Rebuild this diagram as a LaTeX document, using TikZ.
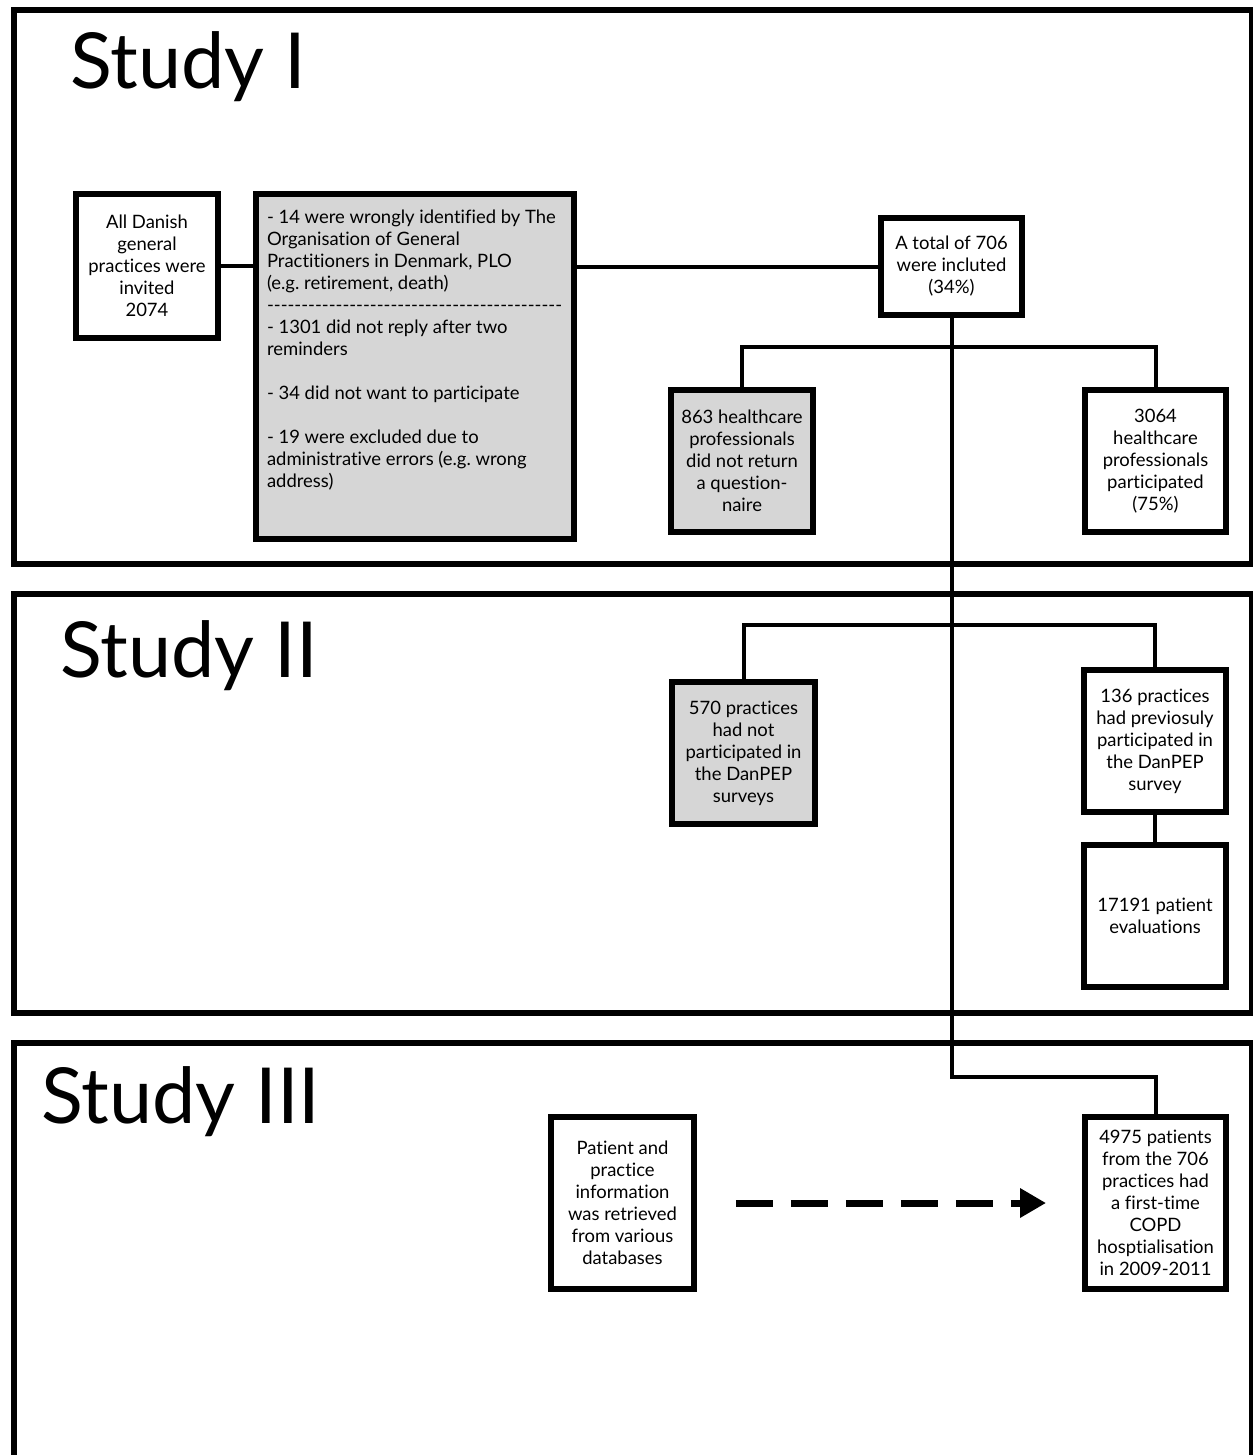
\documentclass[tikz,border=0pt]{standalone}
\usepackage{fontspec}
\setmainfont{Lato}[Ligatures={NoCommon}]
\usetikzlibrary{arrows.meta,positioning}
\definecolor{boxgray}{HTML}{D6D6D6}

\begin{document}
\begin{tikzpicture}[x=0.02cm, y=-0.02cm,
        studyframe/.style={line width=0.12cm},
        studytitle/.style={anchor=base west, inner sep=0pt, font=\fontsize{44}{44}\selectfont},
        flowbox/.style={draw, line width=0.12cm, align=center, inner sep=0pt,
            font=\fontsize{10.5}{12.5}\selectfont},
        excluded/.style={fill=boxgray},
        link/.style={line width=0.08cm},
        dasharrow/.style={line width=0.14cm, dash pattern=on 0.74cm off 0.36cm,
            -{Triangle[length=0.52cm, width=0.56cm]}, shorten <=0.78cm, shorten >=0.72cm}]
        \useasboundingbox (0,0) rectangle (1253,1455);

        \draw[studyframe] (14,10) rectangle (1252,564);
        \draw[studyframe] (14,594) rectangle (1252,1013);
        \draw[studyframe] (14,1455) -- (14,1043) -- (1252,1043) -- (1252,1455);

        \node[studytitle] (study1) at (70,88) {Study I};
        \node[studytitle] (study2) at (60,677) {Study II};
        \node[studytitle] (study3) at (41,1123) {Study III};

        % Study I
        \node[flowbox, minimum width=2.84cm, minimum height=2.88cm] (invited) at (147,266)
            {All Danish\\general\\practices were\\invited\\2074};
        \node[flowbox, excluded, inner xsep=0.22cm, inner ysep=0.32cm] (reasons) at (415,366.5)
            {\parbox[c][6.26cm][t]{5.92cm}{\raggedright
            - 14 were wrongly identified by The\\
            Organisation of General\\
            Practitioners in Denmark, PLO\\
            (e.g.\ retirement, death)\\
            \makebox[\linewidth]{\leaders\hbox{-}\hfill}\\
            - 1301 did not reply after two\\
            reminders\\[\baselineskip]
            - 34 did not want to participate\\[\baselineskip]
            - 19 were excluded due to\\
            administrative errors (e.g.\ wrong\\
            address)}};
        \node[flowbox, minimum width=2.82cm, minimum height=1.94cm] (total) at (951.5,266.5)
            {A total of 706\\were incluted\\(34\%)};
        \node[flowbox, excluded, minimum width=2.84cm, minimum height=2.84cm] (nonresp) at (742,461)
            {863 healthcare\\professionals\\did not return\\a question-\\naire};
        \node[flowbox, minimum width=2.82cm, minimum height=2.84cm] (particip) at (1155.5,461)
            {3064\\healthcare\\professionals\\participated\\(75\%)};

        % Study II
        \node[flowbox, excluded, minimum width=2.86cm, minimum height=2.84cm] (notprev) at (743.5,753)
            {570 practices\\had not\\participated in\\the DanPEP\\surveys};
        \node[flowbox, minimum width=2.84cm, minimum height=2.84cm] (prev) at (1155,741)
            {136 practices\\had previosuly\\participated in\\the DanPEP\\survey};
        \node[flowbox, minimum width=2.84cm, minimum height=2.84cm] (evals) at (1155,916)
            {17191 patient\\evaluations};

        % Study III
        \node[flowbox, minimum width=2.86cm, minimum height=3.44cm] (retrieved) at (622.5,1203)
            {Patient and\\practice\\information\\was retrieved\\from various\\databases};
        \node[flowbox, minimum width=2.82cm, minimum height=3.44cm] (copd) at (1155.5,1203)
            {4975 patients\\from the 706\\practices had\\a first-time\\COPD\\hosptialisation\\in 2009-2011};

        \coordinate (fork1) at (951.5,347);
        \coordinate (fork2) at (951.5,625);
        \coordinate (bend) at (951.5,1077);

        \draw[link] (invited.east) -- (invited.east -| reasons.west);
        \draw[link] (total.west -| reasons.east) -- (total.west);
        \draw[link] (total.south) -- (bend) -| (copd.north);
        \draw[link] (nonresp.north) |- (fork1) -| (particip.north);
        \draw[link] (notprev.north) |- (fork2) -| (prev.north);
        \draw[link] (prev) -- (evals);
        \draw[dasharrow] (retrieved.east) -- (copd.west);
    \end{tikzpicture}
\end{document}
